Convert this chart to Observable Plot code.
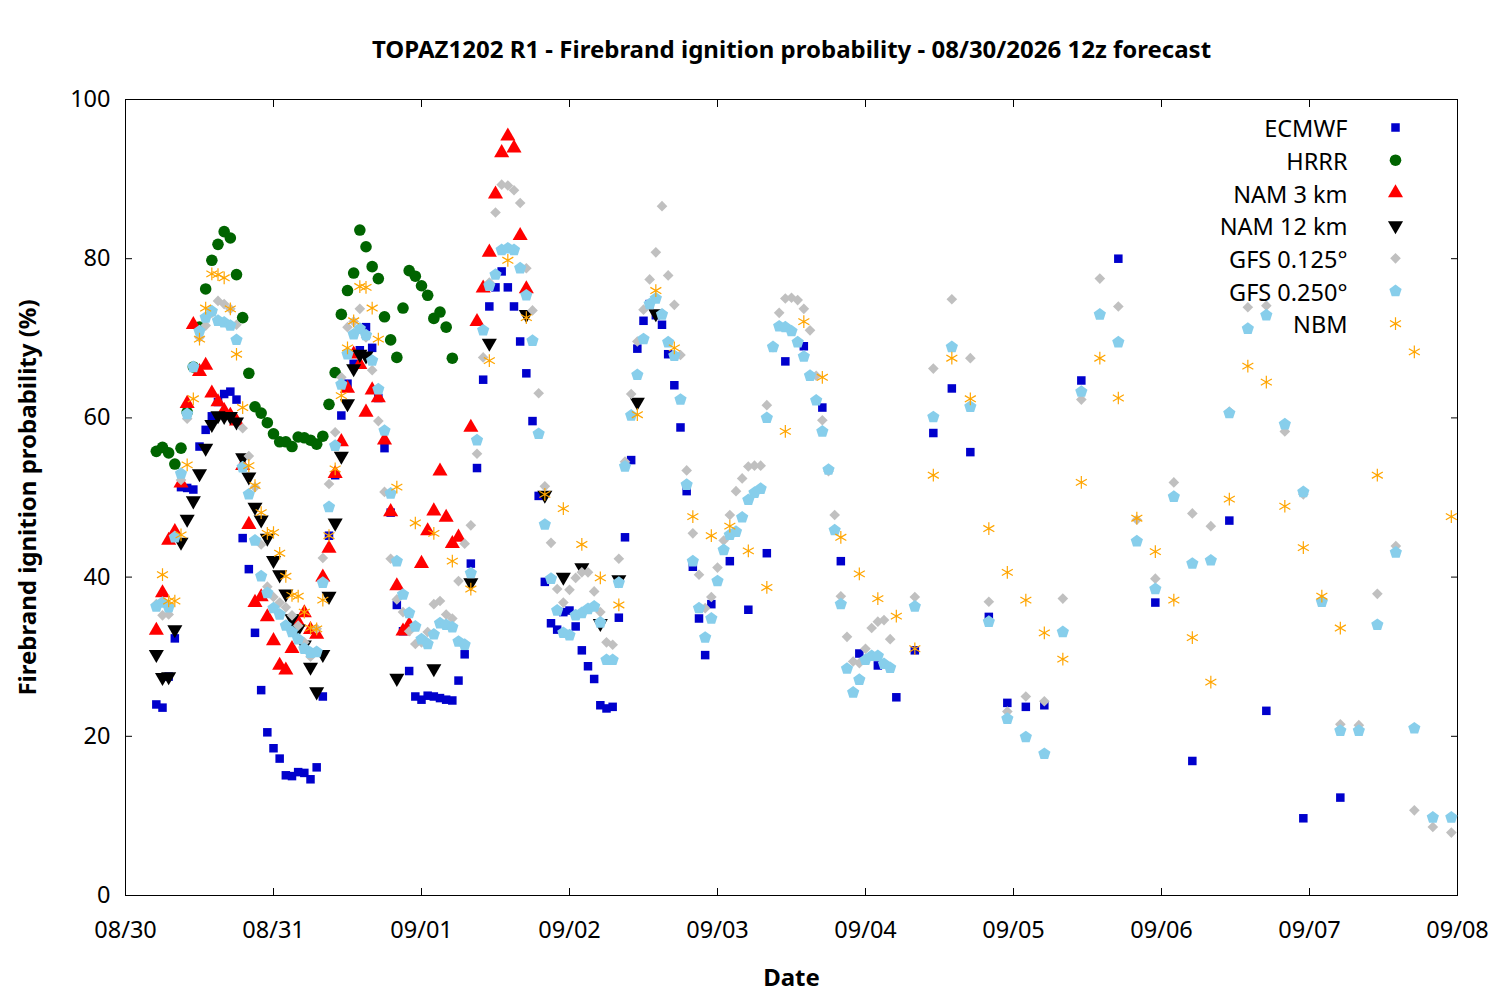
<!DOCTYPE html>
<html><head><meta charset="utf-8">
<script src="https://cdn.jsdelivr.net/npm/d3@7"></script>
<script src="https://cdn.jsdelivr.net/npm/@observablehq/plot@0.6"></script>
<style>body{margin:0;background:#fff}</style>
</head><body><div id="chart"></div>
<script>
const seriesNames = ["ECMWF","HRRR","NAM 3 km","NAM 12 km","GFS 0.125°","GFS 0.250°","NBM"];
const hourlyStart = 5, hourlyStep = 1;
const threeStep = 3;
const ecmwf3hStart = 98, ecmwf6hStart = 155, gfs3hStart = 128, nbm3hStart = 47;

const ecmwfHourly = [24,23.6,27.5,32.3,51.3,51.2,51,56.4,58.5,60.2, 62,63,63.3,62.3,44.9,41,33,25.8,20.5,18.5, 17.2,15.1,15,15.5,15.4,14.6,16.1,25,45.2,52.8, 60.3,64.3,66.8,68.5,71.4,68.8,62.5,56.2,48.1,36.5, 33.2,28.2,25,24.6,25.1,25,24.8,24.6,24.5,27, 30.3,41.7,53.7,64.8,74,76.4,78.4,76.4,74,69.6, 65.6,59.6,50.2,39.4,34.2,33.4,35.6,35.8,33.8,30.8, 28.8,27.2,23.9,23.5,23.7,34.9,45,54.7,68.7,72.2, 74.3,72.9,71.7,68,64.1,58.8,50.8,41.3,34.8,30.2, 36.6];
const ecmwf3h = [42,35.9,43,67.1,69,61.3,42,30.4,28.9,24.9,30.8,58.1,63.7,55.7,35,24.2,23.7,23.9];
const ecmwf6h = [64.7,80,36.8,16.9,47.1,23.2,9.7,12.3];

const hrrrHourly = [55.8,56.3,55.6,54.2,56.2,60.7,66.4,71.4,76.2,79.8, 81.8,83.4,82.6,78,72.6,65.6,61.4,60.6,59.4,58, 57,57,56.4,57.6,57.5,57.2,56.7,57.7,61.7,65.7, 73,76,78.2,83.6,81.5,79,77.5,72.7,69.8,67.6, 73.8,78.5,77.8,76.6,75.4,72.5,73.3,71.4,67.5];

const nam3Hourly = [33.3,38,44.6,45.7,51.8,61.8,71.7,65.8,66.6,63.1, 62,60.9,60.3,59.6,54,46.6,36.8,37.5,35,32, 28.9,28.3,31,34.3,35.5,33.4,32.8,40,43.6,53, 57,63.7,68,66.7,60.7,63.5,62.5,57.2,48.2,38.9, 33.2,34,null,41.7,45.8,48.3,53.3,47.5,44.2,45, null,58.8,72.1,76.3,80.8,88.1,93.3,95.4,93.9,82.9, 76.2];

const nam12Hourly = [30.3,27.4,27.5,33.4,44.4,47.3,49.6,53,56.2,59.2, 60.3,60.2,60.2,59.5,55,52.6,48.8,47.2,44.9,42.1, 40.3,37.9,34.8,33.5,31.5,28.7,25.6,30.3,37.6,46.8, 55.2,61.8,66.2,68,67.8];
const nam12LateHours = [44,50,56,59,65,68,71,74,77,80,83,86];
const nam12Late = [27.3,28.5,39.3,69.4,73,50.3,40,41.2,34.2,39.7,62,73.1];

const gfs125Hourly = [36.6,35.2,35.3,45.2,52.2,59.9,66.4,70.1,71.6,73.2, 74.7,74.3,73.7,71.7,58.7,55.2,51.3,44.1,38.8,37.5, 36.8,36.2,35.2,33.9,31.8,30,33.5,42.4,51.7,58.2, 65.1,71.4,72.1,73.7,70.1,66,59.6,50.7,42.3,37.2, 35.6,33.2,31.6,31.8,33.1,36.6,37,35.3,34.8,39.5, 44.2,46.5,55.5,67.6,77,85.8,89.3,89.2,88.6,87, 78.8,73.5,63.1,51.4,44.3,38.5,36.8,38.4,39.9,40.6, 40.6,38.2,35.6,31.8,31.5,42.3,54.5,63,69.6,73.6, 77.4,80.8,86.6,77.9,74.2,67.9,53.4,45.5,40.3,36.1, 37.5, 41.2,44.6,47.8,50.8,52.4,53.9,54,54,61.6,68.9, 73.2,75,75.1,74.8,73.7,71,65.3,59.7,53.3,47.8, 37.6,32.5,29.4,29.2,31,33.6,34.4,34.6,32.2];
const gfs1253h = [37.5,66.2,74.9,67.5,36.9,23.1,25,24.4,37.3,62.3, 77.5,74,47.2,39.8,51.9,48,46.4,60.8,73.9,74.1, 58.3,50.4,37.1,21.5,21.4,37.9,43.9,10.7,8.6,7.9];

const gfs250Hourly = [36.3,36.8,36.2,45,53,60.5,66.4,70.9,72.6,73.4, 72.2,72,71.6,69.8,53.8,50.4,44.6,40.1,38,36.1, 35.3,33.9,33.1,32.2,31,30.5,30.6,39.3,48.8,56.5, 64.2,68,70.5,71.2,70.4,67.2,63.6,58.4,50.5,42, 37.8,35.5,33.8,32.2,31.6,32.8,34.2,34,33.7,31.9, 31.5,40.5,57.2,71,76.6,78,81.1,81.3,81.1,78.8, 75.4,69.7,58,46.6,39.8,35.8,33,32.7,35.2,35.5, 36,36.3,34.3,29.6,29.6,39.3,53.9,60.3,65.4,69.9, 74.3,75,73,69.5,67.8,62.3,51.6,42,36.1,32.4, 34.8, 39.5,43.4,45.3,45.7,47.5,49.7,50.6,51.1,60,68.9, 71.5,71.4,70.9,69.5,67.7,65.3,62.2,58.3,53.5,45.9, 36.6,28.5,25.5,27.1,29.6,30.1,30.1,29.1,28.6];
const gfs2503h = [36.3,60.1,68.9,61.4,34.4,22.2,19.9,17.8,33.1,63.3, 73,69.5,44.5,38.5,50.1,41.7,42.1,60.6,71.2,72.9, 59.2,50.7,36.9,20.7,20.7,34,43.1,21,9.8,9.8];

const nbmHourly = [null,40.3,37,37,45.3,54.1,62.4,69.9,73.8,78.1, 78,77.6,73.7,68,61.3,54,51.5,48.1,45.5,45.6, 43,40.1,37.7,37.6,35.6,33.6,33.5,37.1,45.2,53.6, 62.8,68.8,72.2,76.5,76.4,73.8,69.9,null,null,51.3];
const nbm3h = [46.8,45.5,42,38.5,67.2,79.8,72.6,50.4,48.6,44.1, 39.9,36.5,60.4,76,68.8,47.6,45.2,46.4,43.3,38.7, 58.3,72.1,65.1,45,40.4,37.3,35.1,31,52.8,67.5, 62.4,46.1,40.6,37.1,33,29.7,51.9,67.5,62.5,47.4, 43.2,37.1,32.4,26.8,49.8,66.5,64.5,48.9,43.7,37.6, 33.6,null,52.8,null,68.3,null,47.6];

const t0 = Date.UTC(2026,7,30);
const toDate = h => new Date(t0 + h*3600e3);
function seg(start, step, vals){ return vals.map((v,i)=>({t:toDate(start+i*step), v})).filter(d=>d.v!=null); }

const data = {
  "ECMWF": [...seg(hourlyStart,hourlyStep,ecmwfHourly), ...seg(ecmwf3hStart,threeStep,ecmwf3h), ...seg(ecmwf6hStart,2*threeStep,ecmwf6h)],
  "HRRR": seg(hourlyStart,hourlyStep,hrrrHourly),
  "NAM 3 km": seg(hourlyStart,hourlyStep,nam3Hourly),
  "NAM 12 km": [...seg(hourlyStart,hourlyStep,nam12Hourly), ...nam12LateHours.map((h,i)=>({t:toDate(h), v:nam12Late[i]}))],
  "GFS 0.125°": [...seg(hourlyStart,hourlyStep,gfs125Hourly), ...seg(gfs3hStart,threeStep,gfs1253h)],
  "GFS 0.250°": [...seg(hourlyStart,hourlyStep,gfs250Hourly), ...seg(gfs3hStart,threeStep,gfs2503h)],
  "NBM": [...seg(hourlyStart,hourlyStep,nbmHourly), ...seg(nbm3hStart,threeStep,nbm3h)]
};

const pentagon = { draw(ctx, size){ const R = Math.sqrt(size/2.378); for(let i=0;i<5;i++){ const a = -Math.PI/2 + i*2*Math.PI/5; const x=R*Math.cos(a), y=R*Math.sin(a); i?ctx.lineTo(x,y):ctx.moveTo(x,y);} ctx.closePath(); } };

const styles = {
  "ECMWF": {symbol:"square", fill:"#0000cc", r:4.8},
  "HRRR": {symbol:"circle", fill:"#006400", r:5.8},
  "NAM 3 km": {symbol:"triangle", fill:"#ff0000", r:5.6},
  "NAM 12 km": {symbol:"triangle", fill:"#000000", r:5.6, rotate:180},
  "GFS 0.125°": {symbol:"diamond2", fill:"#c0c0c0", r:4.8},
  "GFS 0.250°": {symbol:pentagon, fill:"#87ceeb", r:5.6},
  "NBM": {symbol:"asterisk", stroke:"#ffa500", r:6, strokeWidth:1.2}
};

const marks = [];
seriesNames.forEach((name,i)=>{
  const st = styles[name];
  const base = Object.assign({x:"t", y:"v", r:st.r, symbol:st.symbol}, st.fill?{fill:st.fill, stroke:"none"}:{stroke:st.stroke, fill:"none", strokeWidth:st.strokeWidth}, st.rotate?{rotate:st.rotate}:{});
  marks.push(Plot.dot(data[name], base));
  marks.push(Plot.text([name], {text:d=>d, frameAnchor:"top-right", dx:-110, dy:21+i*32.7, textAnchor:"end", fontSize:23.5, fill:"#000"}));
  marks.push(Plot.dot([name], Object.assign({}, base, {x:null, y:null, frameAnchor:"top-right", dx:-62, dy:28+i*32.7})));
});

const chart = Plot.plot({
  width:1500, height:1000,
  marginTop:99, marginLeft:125, marginRight:43, marginBottom:105,
  style:{fontFamily:"'Noto Sans', sans-serif", fontSize:"20px", background:"#fff"},
  x:{type:"utc", domain:[toDate(0), toDate(216)]},
  y:{domain:[0,100]},
  marks:[
    Plot.frame({stroke:"#000", strokeWidth:1}),
    Plot.axisX({ticks:d3.utcDay.every(1), tickFormat:d3.utcFormat("%m/%d"), tickSize:-7, tickPadding:33, fontSize:23.5, label:null}),
    Plot.axisX({ticks:d3.utcDay.every(1), anchor:"top", tickSize:-7, tickFormat:()=>"", label:null}),
    Plot.axisY({ticks:[0,20,40,60,80,100], tickSize:-7, tickPadding:22, fontSize:23.5, label:null}),
    Plot.axisY({ticks:[0,20,40,60,80,100], anchor:"right", tickSize:-7, tickFormat:()=>"", label:null}),
    ...marks,
    Plot.text(["TOPAZ1202 R1 - Firebrand ignition probability - 08/30/2026 12z forecast"], {text:d=>d, frameAnchor:"top", dy:-59, fontWeight:"bold", fontSize:24}),
    Plot.text(["Date"], {text:d=>d, frameAnchor:"bottom", dy:90, fontWeight:"bold", fontSize:24}),
    Plot.text(["Firebrand ignition probability (%)"], {text:d=>d, frameAnchor:"left", textAnchor:"middle", dx:-97, rotate:-90, fontWeight:"bold", fontSize:24})
  ]
});
document.getElementById("chart").appendChild(chart);
</script></body></html>
